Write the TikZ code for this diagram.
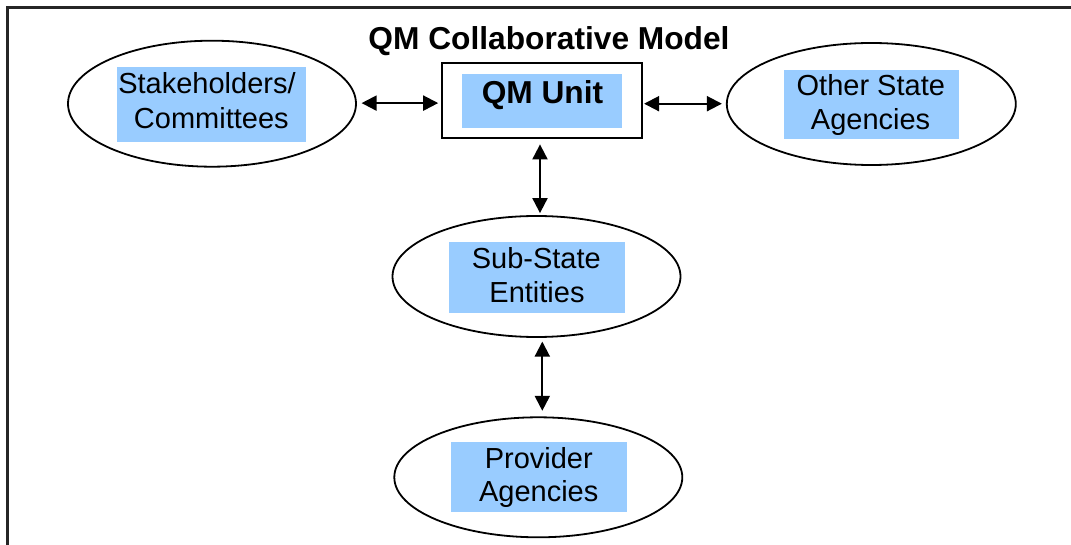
\documentclass[tikz,border=0pt]{standalone}
\usepackage{fontspec}
\setmainfont{Liberation Sans}
\usetikzlibrary{shapes.geometric,arrows.meta}
\definecolor{hlblue}{HTML}{99CCFF}
\tikzset{
  oval/.style={ellipse, draw=black, line width=1.8pt, inner sep=0pt, fill=white},
  hlbox/.style={rectangle, fill=hlblue, draw=none, inner sep=0pt},
  lbl/.style={anchor=base, inner sep=0pt, font=\fontsize{29}{35}\selectfont},
  bold/.style={anchor=base, inner sep=0pt, font=\fontsize{31.7}{36}\selectfont\bfseries},
  unitbox/.style={rectangle, draw=black, line width=2.2pt, inner sep=0pt, fill=white},
  arr/.style={line width=2pt, {Triangle[length=15pt,width=15pt]}-{Triangle[length=15pt,width=15pt]}},
  frame/.style={line width=2.5pt, draw=black!85}
}
\begin{document}
\begin{tikzpicture}[x=1pt,y=-1pt]
\useasboundingbox (0,0) rectangle (1071,545);
% frame
\coordinate (frTR) at (1071,7.5);
\coordinate (frTL) at (7.5,7.5);
\coordinate (frBL) at (7.5,545);
\draw[frame] (frTR) -- (frTL) -- (frBL);
% title
\node[bold] (title) at (549,50) {QM Collaborative Model};
% ellipses
\node[oval, minimum width=288, minimum height=126] (stk) at (212,103.7) {};
\node[oval, minimum width=289, minimum height=122] (oth) at (871.3,104) {};
\node[oval, minimum width=288, minimum height=121] (sub) at (536.5,276.5) {};
\node[oval, minimum width=288, minimum height=120] (prov) at (538.3,477.3) {};
% QM unit box
\node[unitbox, minimum width=200, minimum height=75] (qm) at (542,100.8) {};
% highlight boxes
\node[hlbox, minimum width=189, minimum height=75] (stkhl) at (211.5,104.3) {};
\node[hlbox, minimum width=175, minimum height=69.3] (othhl) at (871.5,104.7) {};
\node[hlbox, minimum width=160.6, minimum height=53.7] (qmhl) at (542,100.8) {};
\node[hlbox, minimum width=176, minimum height=70.4] (subhl) at (537,277.5) {};
\node[hlbox, minimum width=176, minimum height=69.7] (provhl) at (539,477.2) {};
% labels
\node[lbl] (stk1) at (207,93.3) {Stakeholders/};
\node[lbl] (stk2) at (211.3,128.3) {Committees};
\node[lbl] (oth1) at (870.8,96) {Other State};
\node[lbl] (oth2) at (870.6,130) {Agencies};
\node[bold] (qmt) at (542.5,104) {QM Unit};
\node[lbl] (sub1) at (536.3,268.3) {Sub-State};
\node[lbl] (sub2) at (537,302.7) {Entities};
\node[lbl] (prov1) at (538.8,468.3) {Provider};
\node[lbl] (prov2) at (538.7,501.7) {Agencies};
% connectors
\draw[arr, shorten <=4.7pt, shorten >=2.7pt] ([yshift=0.6]stk.east) -- ([yshift=0.6]qm.west |- stk.east);
\draw[arr, shorten <=1pt, shorten >=4pt] ([yshift=0.3]qm.east |- oth.west) -- ([yshift=0.3]oth.west);
\draw[arr, shorten <=5pt, shorten >=2pt] ([xshift=-2]qm.south) -- ([xshift=-2]qm.south |- sub.north);
\draw[arr, shorten <=3.7pt, shorten >=5.6pt] ([xshift=4]prov.north |- sub.south) -- ([xshift=4]prov.north);
\end{tikzpicture}
\end{document}
